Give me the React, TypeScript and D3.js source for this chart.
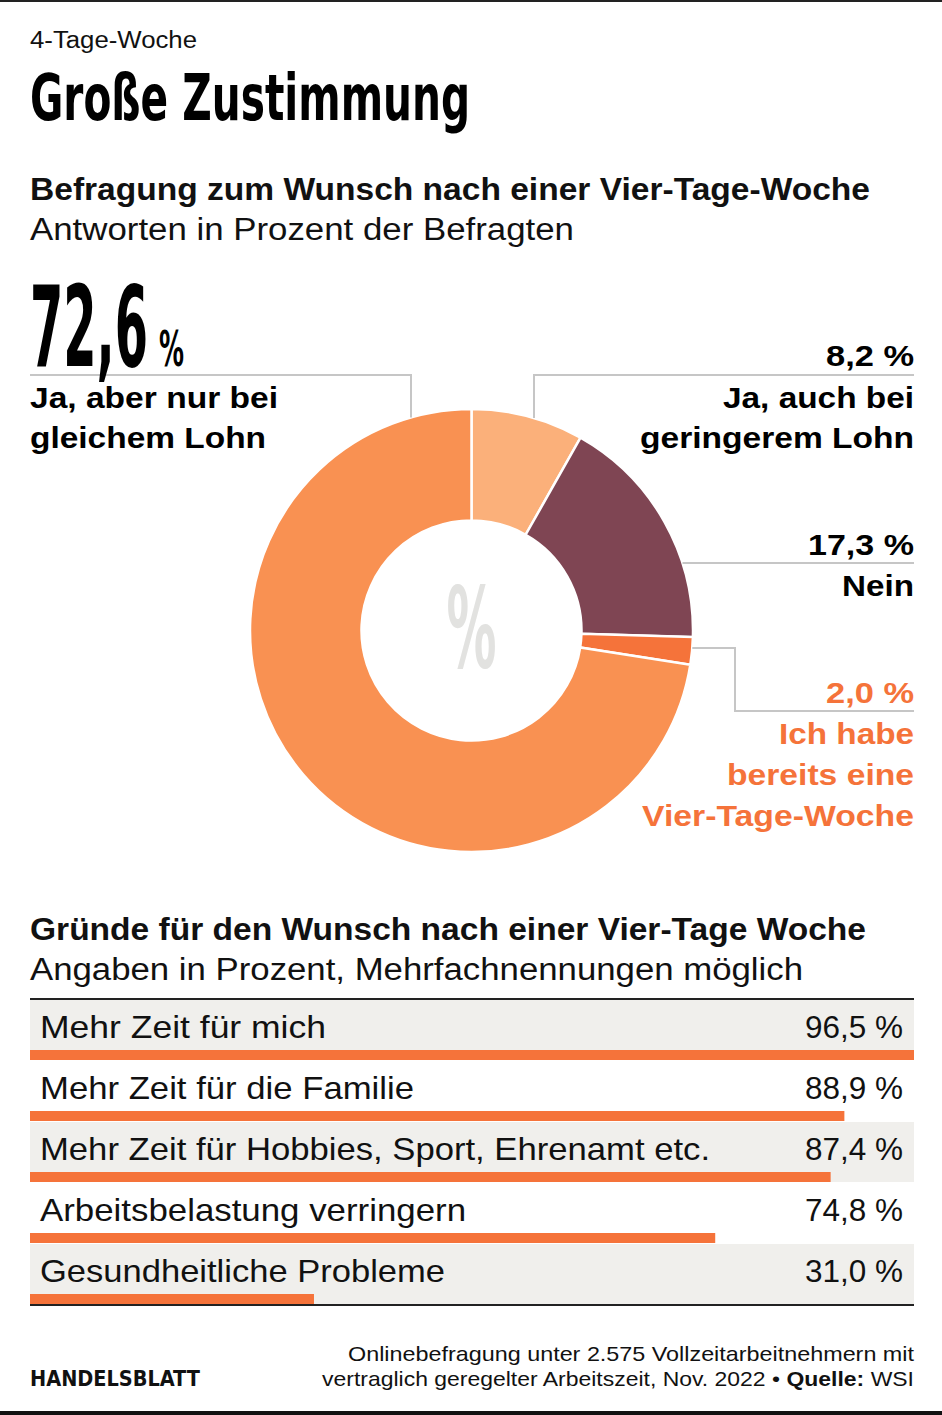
import React from "react";
import * as d3 from "d3";

const W = 942;
const H = 1415;

// Donut data (clockwise from top)
const pieLabels = ["Ja, auch bei geringerem Lohn", "Nein", "Ich habe bereits eine Vier-Tage-Woche", "Ja, aber nur bei gleichem Lohn"];
const pieValues = [8.2, 17.3, 2.0, 72.6];
const pieColors = ["#FBB07A", "#7F4553", "#F5733A", "#F99152"];

// Bar data
const barLabels = [
  "Mehr Zeit für mich",
  "Mehr Zeit für die Familie",
  "Mehr Zeit für Hobbies, Sport, Ehrenamt etc.",
  "Arbeitsbelastung verringern",
  "Gesundheitliche Probleme",
];
const barValues = [96.5, 88.9, 87.4, 74.8, 31.0];
const barLabelWidths = [286, 374, 670, 426, 405];

const fmt = (v: number) => v.toFixed(1).replace(".", ",") + " %";

const SANS = "'Liberation Sans', Arial, Helvetica, sans-serif";
const NARROW = "'Liberation Sans Narrow', 'DejaVu Sans Condensed', 'Liberation Sans', sans-serif";

type TProps = {
  x: number;
  y: number;
  w?: number;
  size: number;
  weight?: number;
  fill?: string;
  anchor?: "start" | "end" | "middle";
  family?: string;
  children: React.ReactNode;
};

function T({ x, y, w, size, weight = 400, fill = "#111", anchor = "start", family = SANS, children }: TProps) {
  return (
    <text
      x={x}
      y={y}
      fontFamily={family}
      fontSize={size}
      fontWeight={weight}
      fill={fill}
      textAnchor={anchor}
      textLength={w}
      lengthAdjust={w ? "spacingAndGlyphs" : undefined}
    >
      {children}
    </text>
  );
}

export default function App() {
  const cx = 471.5;
  const cy = 630.5;
  const rOuter = 221.5;
  const rInner = 110;

  const pie = d3.pie<number>().sort(null).value((d) => d);
  const arcs = pie(pieValues);
  const arc = d3.arc<d3.PieArcDatum<number>>().innerRadius(rInner).outerRadius(rOuter);

  const edgeX = (y: number, side: 1 | -1) => cx + side * Math.sqrt(rOuter * rOuter - (y - cy) * (y - cy));
  const edgeY = (x: number) => cy - Math.sqrt(rOuter * rOuter - (x - cx) * (x - cx));

  const x = d3.scaleLinear().domain([0, d3.max(barValues) as number]).range([30, 914]);
  const rowTop = 1000;
  const rowH = 61;
  const barH = 10;

  const lineCol = "#c6c6c6";
  const orange = "#F5733A";

  return (
    <svg
      width={W}
      height={H}
      viewBox={`0 0 ${W} ${H}`}
      style={{ position: "absolute", left: 0, top: 0, background: "#fff" }}
    >
      <rect x={0} y={0} width={W} height={H} fill="#fff" />
      <rect x={0} y={0} width={W} height={2} fill="#222" />

      <T x={30} y={48} w={167} size={23} weight={300}>4-Tage-Woche</T>
      <T x={30} y={120} w={440} size={64} weight={700} family={NARROW} fill="#000">Große Zustimmung</T>

      <T x={30} y={200} w={840} size={31} weight={700}>Befragung zum Wunsch nach einer Vier-Tage-Woche</T>
      <T x={30} y={240} w={544} size={31}>Antworten in Prozent der Befragten</T>

      {/* donut */}
      <g transform={`translate(${cx},${cy})`}>
        {arcs.map((a, i) => (
          <path key={pieLabels[i]} d={arc(a) || ""} fill={pieColors[i]} stroke="#fff" strokeWidth={2.5} />
        ))}
        <text x={0} y={36} textAnchor="middle" fontFamily={NARROW} fontSize={112} fontWeight={700} fill="#e2e2e0" textLength={50} lengthAdjust="spacingAndGlyphs">%</text>
      </g>

      {/* leader lines */}
      <polyline points={`30,375 411,375 411,${edgeY(411)}`} fill="none" stroke={lineCol} strokeWidth={2} />
      <polyline points={`914,375 534,375 534,${edgeY(534)}`} fill="none" stroke={lineCol} strokeWidth={2} />
      <polyline points={`${edgeX(563, 1)},563 914,563`} fill="none" stroke={lineCol} strokeWidth={2} />
      <polyline points={`${edgeX(648, 1)},648 735,648 735,711 914,711`} fill="none" stroke={lineCol} strokeWidth={2} />

      {/* big label */}
      <T x={30} y={366} w={118} size={112} weight={700} family={NARROW} fill="#000">72,6</T>
      <T x={159} y={366} w={25} size={50} weight={700} family={NARROW} fill="#000">%</T>
      <T x={30} y={408} w={248} size={30} weight={700} fill="#000">Ja, aber nur bei</T>
      <T x={30} y={448} w={236} size={30} weight={700} fill="#000">gleichem Lohn</T>

      <T x={914} y={366} w={88} size={30} weight={700} anchor="end" fill="#000">{fmt(pieValues[0])}</T>
      <T x={914} y={408} w={191} size={30} weight={700} anchor="end" fill="#000">Ja, auch bei</T>
      <T x={914} y={448} w={274} size={30} weight={700} anchor="end" fill="#000">geringerem Lohn</T>

      <T x={914} y={555} w={106} size={30} weight={700} anchor="end" fill="#000">{fmt(pieValues[1])}</T>
      <T x={914} y={596} w={72} size={30} weight={700} anchor="end" fill="#000">{pieLabels[1]}</T>

      <T x={914} y={703} w={88} size={30} weight={700} anchor="end" fill={orange}>{fmt(pieValues[2])}</T>
      <T x={914} y={744} w={135} size={30} weight={700} anchor="end" fill={orange}>Ich habe</T>
      <T x={914} y={785} w={187} size={30} weight={700} anchor="end" fill={orange}>bereits eine</T>
      <T x={914} y={826} w={272} size={30} weight={700} anchor="end" fill={orange}>Vier-Tage-Woche</T>

      {/* bars section */}
      <T x={30} y={940} w={836} size={31} weight={700}>Gründe für den Wunsch nach einer Vier-Tage Woche</T>
      <T x={30} y={980} w={773} size={31}>Angaben in Prozent, Mehrfachnennungen möglich</T>

      {barValues.map((v, i) => {
        const y0 = rowTop + i * rowH;
        return (
          <g key={barLabels[i]}>
            {i % 2 === 0 && <rect x={30} y={y0} width={884} height={rowH - 1} fill="#F0EFEC" />}
            <rect x={x(0)} y={y0 + rowH - 1 - barH} width={x(v) - x(0)} height={barH} fill={orange} />
            <T x={40} y={y0 + 38} w={barLabelWidths[i]} size={32} weight={300}>{barLabels[i]}</T>
            <T x={903} y={y0 + 38} w={98} size={32} weight={300} anchor="end">{fmt(v)}</T>
          </g>
        );
      })}
      <rect x={30} y={998} width={884} height={2} fill="#222" />
      <rect x={30} y={rowTop + barValues.length * rowH - 1} width={884} height={2} fill="#222" />

      {/* footer */}
      <T x={30} y={1386} w={170} size={21} weight={700} family={NARROW}>HANDELSBLATT</T>
      <T x={914} y={1361} w={566} size={21} anchor="end">Onlinebefragung unter 2.575 Vollzeitarbeitnehmern mit</T>
      <text x={914} y={1386} fontFamily={SANS} fontSize={21} fill="#111" textAnchor="end" textLength={592} lengthAdjust="spacingAndGlyphs">
        vertraglich geregelter Arbeitszeit, Nov. 2022 • <tspan fontWeight={700}>Quelle:</tspan> WSI
      </text>

      <rect x={0} y={1411} width={W} height={4} fill="#111" />
    </svg>
  );
}
